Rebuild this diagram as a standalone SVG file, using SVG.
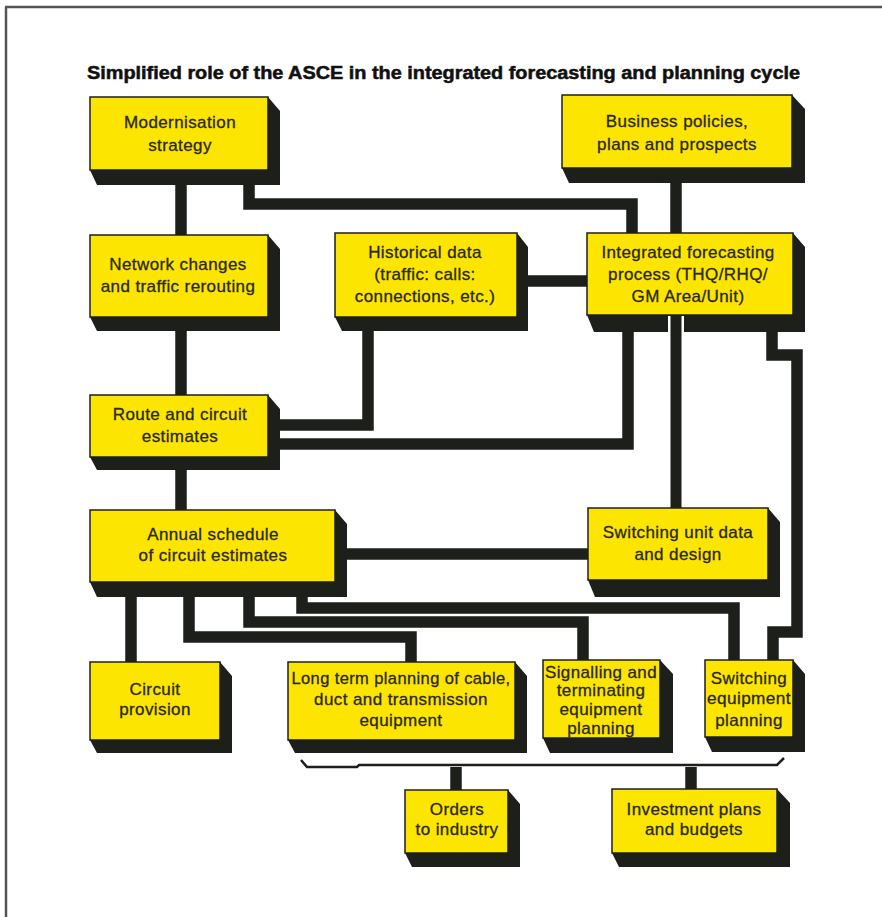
<svg xmlns="http://www.w3.org/2000/svg" width="882" height="917" viewBox="0 0 882 917">
<style>
.sh{fill:#1d1f1b}
.bx{fill:#fce500;stroke:#1d1f1b;stroke-width:1.5}
.t{font-family:"Liberation Sans",Arial,sans-serif;font-size:17px;fill:#2a2818;stroke:#2a2818;stroke-width:0.3;text-anchor:middle;letter-spacing:0.4px}
.c{fill:none;stroke:#1d1f1b;stroke-width:11.5;stroke-linejoin:miter;stroke-linecap:butt}
.title{font-family:"Liberation Sans",Arial,sans-serif;font-size:17.5px;font-weight:bold;fill:#111;stroke:#111;stroke-width:0.5}
</style>
<rect width="882" height="917" fill="#fff"/>
<path d="M5 7H882M6 7V917" fill="none" stroke="#555" stroke-width="2.5"/>
<text class="title" x="87" y="79" textLength="713" lengthAdjust="spacingAndGlyphs">Simplified role of the ASCE in the integrated forecasting and planning cycle</text>

<g id="connectors">
<path class="c" d="M181 185V235"/>
<path class="c" d="M249 185V204H632V233"/>
<path class="c" d="M676 183V233"/>
<path class="c" d="M527 281H587"/>
<path class="c" d="M181 330V395"/>
<path class="c" d="M368 330V425H280"/>
<path class="c" d="M628 330V444H280"/>
<path class="c" d="M772 330V355H797V632H773V660"/>
<path class="c" d="M181 470V510"/>
<path class="c" d="M347 554H588"/>
<path class="c" d="M131 597V662"/>
<path class="c" d="M189 597V637H411V662"/>
<path class="c" d="M249 597V622H583V660"/>
<path class="c" d="M302 597V608H734V660"/>
<path d="M301 760L307 767H357L359 765H777L784 758" fill="none" stroke="#1d1f1b" stroke-width="2.5"/>
<path class="c" d="M456 767V790"/>
<path class="c" d="M691 767V789"/>
</g>

<g id="mod">
<path class="sh" d="M90 170L97 185H280V111L268 97Z"/>
<rect class="bx" x="90" y="97" width="178" height="73"/>
<text class="t" x="180" y="128">Modernisation</text>
<text class="t" x="180" y="151">strategy</text>
</g>
<g id="bus">
<path class="sh" d="M562 168L569 183H805V109L792 95Z"/>
<rect class="bx" x="562" y="95" width="230" height="73"/>
<text class="t" x="677" y="127">Business policies,</text>
<text class="t" x="677" y="150">plans and prospects</text>
</g>
<g id="net">
<path class="sh" d="M90 317L97 331H280V249L268 235Z"/>
<rect class="bx" x="90" y="235" width="178" height="82"/>
<text class="t" x="178" y="270">Network changes</text>
<text class="t" x="178" y="292">and traffic rerouting</text>
</g>
<g id="hist">
<path class="sh" d="M335 317L342 331H528V247L517 233Z"/>
<rect class="bx" x="335" y="233" width="182" height="84"/>
<text class="t" x="425" y="258">Historical data</text>
<text class="t" x="425" y="280">(traffic: calls:</text>
<text class="t" x="425" y="302">connections, etc.)</text>
</g>
<g id="integ">
<path class="sh" d="M587 315L594 332H805V247L793 233Z"/>
<rect class="bx" x="587" y="233" width="206" height="82"/>
<text class="t" x="688" y="258">Integrated forecasting</text>
<text class="t" x="688" y="280">process (THQ/RHQ/</text>
<text class="t" x="688" y="302">GM Area/Unit)</text>
<rect x="668" y="316" width="16" height="16" fill="#fff"/>
<rect x="670.5" y="316" width="11" height="192" fill="#1d1f1b"/>
</g>
<g id="route">
<path class="sh" d="M90 457L97 470H280V409L268 395Z"/>
<rect class="bx" x="90" y="395" width="178" height="62"/>
<text class="t" x="180" y="420">Route and circuit</text>
<text class="t" x="180" y="442">estimates</text>
</g>
<g id="annual">
<path class="sh" d="M90 582L97 597H347V524L335 510Z"/>
<rect class="bx" x="90" y="510" width="245" height="72"/>
<text class="t" x="213" y="540">Annual schedule</text>
<text class="t" x="213" y="561">of circuit estimates</text>
</g>
<g id="swunit">
<path class="sh" d="M588 580L595 597H780V522L768 508Z"/>
<rect class="bx" x="588" y="508" width="180" height="72"/>
<text class="t" x="678" y="538">Switching unit data</text>
<text class="t" x="678" y="560">and design</text>
</g>
<g id="circ">
<path class="sh" d="M90 740L97 753H232V676L220 662Z"/>
<rect class="bx" x="90" y="662" width="130" height="78"/>
<text class="t" x="155" y="695">Circuit</text>
<text class="t" x="155" y="715">provision</text>
</g>
<g id="long">
<path class="sh" d="M288 740L295 753H527V676L515 662Z"/>
<rect class="bx" x="288" y="662" width="227" height="78"/>
<text class="t" x="401" y="684" textLength="219" lengthAdjust="spacingAndGlyphs">Long term planning of cable,</text>
<text class="t" x="401" y="705">duct and transmission</text>
<text class="t" x="401" y="726">equipment</text>
</g>
<g id="sig">
<path class="sh" d="M543 738L550 753H673V674L660 660Z"/>
<rect class="bx" x="543" y="660" width="117" height="78"/>
<text class="t" x="601" y="678" textLength="112" lengthAdjust="spacingAndGlyphs">Signalling and</text>
<text class="t" x="601" y="696">terminating</text>
<text class="t" x="601" y="715">equipment</text>
<text class="t" x="601" y="734">planning</text>
</g>
<g id="sweq">
<path class="sh" d="M705 737L712 752H805V674L793 660Z"/>
<rect class="bx" x="705" y="660" width="88" height="77"/>
<text class="t" x="749" y="684">Switching</text>
<text class="t" x="749" y="704" textLength="84" lengthAdjust="spacingAndGlyphs">equipment</text>
<text class="t" x="749" y="726">planning</text>
</g>
<g id="orders">
<path class="sh" d="M405 853L412 867H520V804L508 790Z"/>
<rect class="bx" x="405" y="790" width="103" height="63"/>
<text class="t" x="457" y="815">Orders</text>
<text class="t" x="457" y="835">to industry</text>
</g>
<g id="invest">
<path class="sh" d="M612 853L619 867H790V803L777 789Z"/>
<rect class="bx" x="612" y="789" width="165" height="64"/>
<text class="t" x="694" y="815">Investment plans</text>
<text class="t" x="694" y="835">and budgets</text>
</g>
</svg>
